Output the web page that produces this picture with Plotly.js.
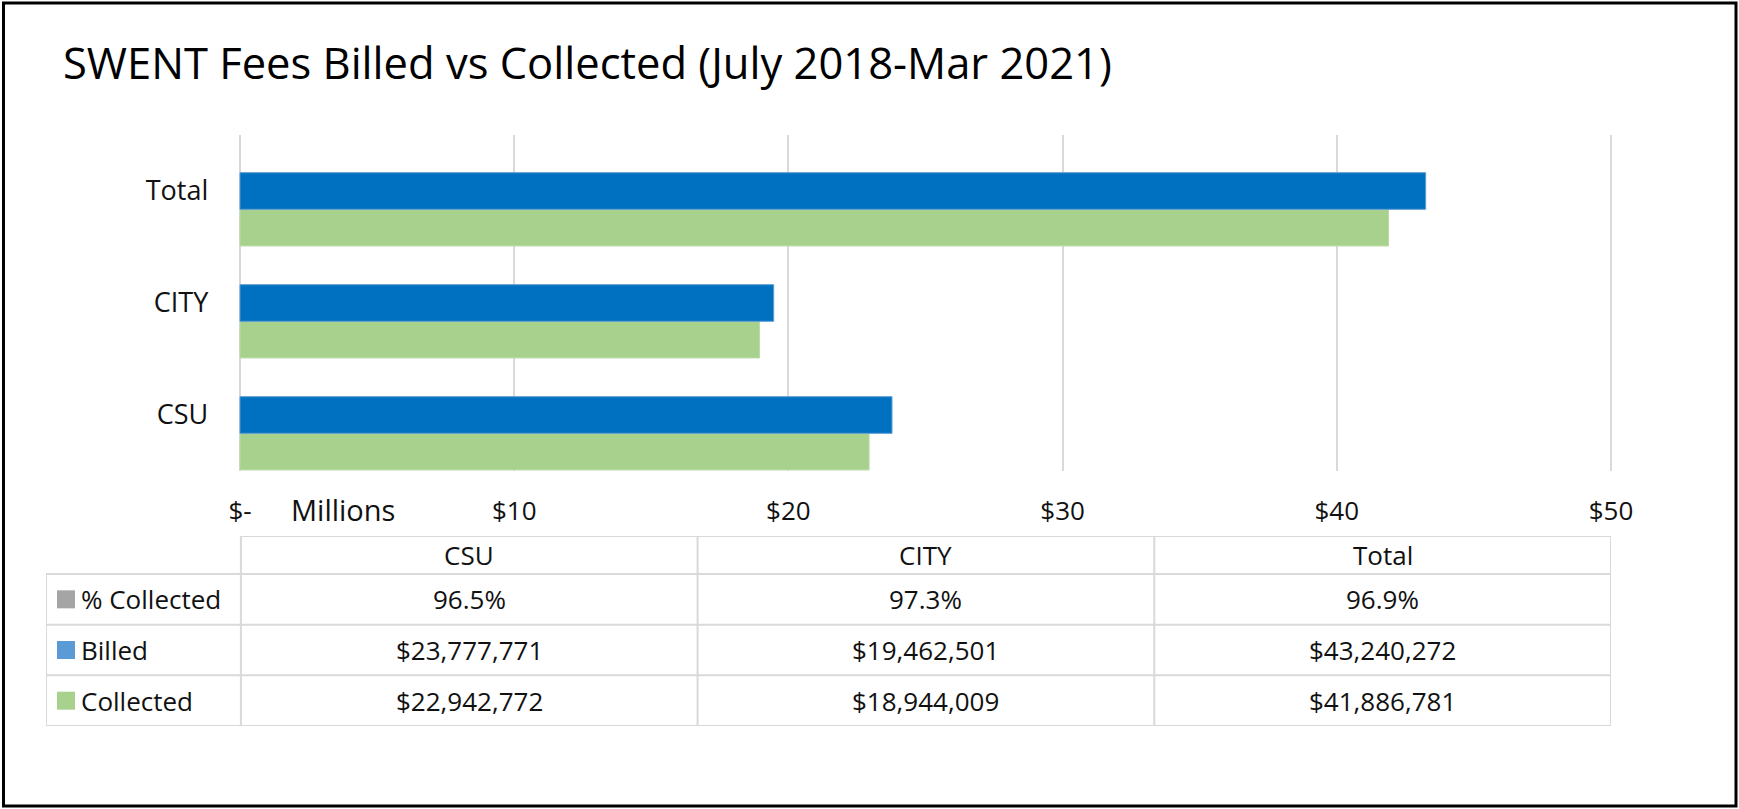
<!DOCTYPE html>
<html>
<head>
<meta charset="utf-8">
<script src="https://cdn.plot.ly/plotly-3.0.1.min.js"></script>
<style>html,body{margin:0;padding:0;background:#fff;}#chart{width:1739px;height:809px;}</style>
</head>
<body>
<div id="chart"></div>
<script>
// ---- data ----
var categories = ['CSU', 'CITY', 'Total'];
var billed = [23777771, 19462501, 43240272];
var collected = [22942772, 18944009, 41886781];
var pctCollected = [96.5, 97.3, 96.9];
var tickValues = [0, 10, 20, 30, 40, 50];
var tickLabels = ['$-', '$10', '$20', '$30', '$40', '$50'];
var seriesNames = ['% Collected', 'Billed', 'Collected'];
var keyColors = ['#A5A5A5', '#5B9BD5', '#A9D18E'];

// ---- helpers ----
var W = 1739, H = 809;
function px(x) { return x / W; }
function py(y) { return 1 - y / H; }
function money(v) { return '$' + v.toLocaleString('en-US'); }

var FONT = '"Open Sans", "Noto Sans", sans-serif';
var TXT = '#111111';
var GRID = '#D9D9D9';

var billedM = billed.map(function (v) { return v / 1e6; });
var collectedM = collected.map(function (v) { return v / 1e6; });

var barW = 0.327;

var traceCollected = {
  type: 'bar', orientation: 'h', name: 'Collected',
  y: categories, x: collectedM, xaxis: 'x', yaxis: 'y',
  width: barW, offset: -barW / 2 - barW,
  marker: { color: '#A9D18E', line: { color: '#B9DBA3', width: 1 } },
  hoverinfo: 'skip', showlegend: false
};
var traceBilled = {
  type: 'bar', orientation: 'h', name: 'Billed',
  y: categories, x: billedM, xaxis: 'x', yaxis: 'y',
  width: barW, offset: -barW / 2,
  marker: { color: '#0070C0', line: { color: '#5B9BD5', width: 1 } },
  hoverinfo: 'skip', showlegend: false
};

// ---- data table (drawn on its own hidden axes x2/y2) ----
var nCols = categories.length, nRows = seriesNames.length;
var labelColW = 195 / 457;          // label column width in column units
var labelLeft = -labelColW;
var hdrTop = -1.25, hdrBot = -0.5;  // header row in row units
var rowValues = [
  pctCollected.map(function (v) { return v.toFixed(1) + '%'; }),
  billed.map(money),
  collected.map(money)
];

var shapes = [];
function hline(y, x0, x1) {
  shapes.push({ type: 'line', xref: 'x2', yref: 'y2', x0: x0, x1: x1, y0: y, y1: y,
    line: { color: GRID, width: 2 } });
}
function vline(x, y0, y1) {
  shapes.push({ type: 'line', xref: 'x2', yref: 'y2', x0: x, x1: x, y0: y0, y1: y1,
    line: { color: GRID, width: 2 } });
}
hline(hdrTop, 0, nCols);
for (var r = 0; r <= nRows; r++) hline(r - 0.5, labelLeft, nCols);
vline(labelLeft, hdrBot, nRows - 0.5);
for (var c = 0; c <= nCols; c++) vline(c, hdrTop, nRows - 0.5);

var annotations = [];
categories.forEach(function (cat, ci) {
  annotations.push({ xref: 'x2', yref: 'y2', x: ci + 0.5, y: (hdrTop + hdrBot) / 2,
    text: cat, showarrow: false, xanchor: 'center', yanchor: 'middle',
    font: { family: FONT, size: 26, color: TXT } });
});
rowValues.forEach(function (row, ri) {
  row.forEach(function (txt, ci) {
    annotations.push({ xref: 'x2', yref: 'y2', x: ci + 0.5, y: ri,
      text: txt, showarrow: false, xanchor: 'center', yanchor: 'middle',
      font: { family: FONT, size: 26, color: TXT } });
  });
});
seriesNames.forEach(function (name, ri) {
  annotations.push({ xref: 'x2', yref: 'y2', x: labelLeft + 33 / 457, y: ri,
    text: name, showarrow: false, xanchor: 'left', yanchor: 'middle',
    font: { family: FONT, size: 26, color: TXT } });
});
annotations.push({
  text: 'Millions', xref: 'paper', yref: 'paper',
  x: px(289), y: py(509), xanchor: 'left', yanchor: 'middle',
  showarrow: false,
  font: { family: FONT, size: 29, color: TXT }
});

var keyTrace = {
  type: 'scatter', mode: 'markers', xaxis: 'x2', yaxis: 'y2',
  x: seriesNames.map(function () { return labelLeft + 20 / 457; }),
  y: seriesNames.map(function (n, i) { return i; }),
  marker: { symbol: 'square', size: 18, color: keyColors, line: { width: 0 } },
  hoverinfo: 'skip', showlegend: false, cliponaxis: false
};

// outer frame
shapes.push({
  type: 'rect', xref: 'paper', yref: 'paper',
  x0: px(3.5), x1: px(1736), y0: py(806), y1: py(3),
  line: { color: '#000', width: 3 }, fillcolor: 'rgba(0,0,0,0)'
});

// x axis: 0 at 240px, 50 at 1611px; pad range slightly so the $50 gridline is drawn
var pxPerUnit = (1611 - 240) / 50;
var pad = 0.1;

var layout = {
  width: W, height: H,
  margin: { l: 0, r: 0, t: 0, b: 0 },
  paper_bgcolor: 'white', plot_bgcolor: 'rgba(0,0,0,0)',
  barmode: 'overlay',
  showlegend: false,
  title: {
    text: 'SWENT Fees Billed vs Collected (July 2018-Mar 2021)',
    x: px(63), xanchor: 'left', xref: 'paper',
    y: py(64), yanchor: 'middle', yref: 'paper',
    font: { family: FONT, size: 43.5, color: '#000' }
  },
  xaxis: {
    domain: [px(240 - pad * pxPerUnit), px(1611 + pad * pxPerUnit)],
    range: [-pad, 50 + pad],
    tickvals: tickValues, ticktext: tickLabels,
    showgrid: true, gridcolor: GRID, gridwidth: 2,
    zeroline: true, zerolinecolor: GRID, zerolinewidth: 2,
    showline: false, ticks: '',
    ticklabelstandoff: 22,
    tickfont: { family: FONT, size: 26, color: TXT },
    fixedrange: true
  },
  yaxis: {
    domain: [py(471), py(135)],
    type: 'category',
    categoryorder: 'array', categoryarray: categories,
    range: [-0.5, 2.5],
    showgrid: false, zeroline: false, showline: false, ticks: '',
    ticklabelstandoff: 28,
    tickfont: { family: FONT, size: 27, color: TXT },
    fixedrange: true
  },
  xaxis2: {
    domain: [px(46), px(1611)], range: [labelLeft, nCols],
    visible: false, anchor: 'y2', fixedrange: true
  },
  yaxis2: {
    domain: [py(726), py(536)], range: [nRows - 0.5, hdrTop],
    visible: false, anchor: 'x2', fixedrange: true
  },
  annotations: annotations,
  shapes: shapes
};

Plotly.newPlot('chart', [traceCollected, traceBilled, keyTrace], layout, { staticPlot: true, displayModeBar: false });
</script>
</body>
</html>
